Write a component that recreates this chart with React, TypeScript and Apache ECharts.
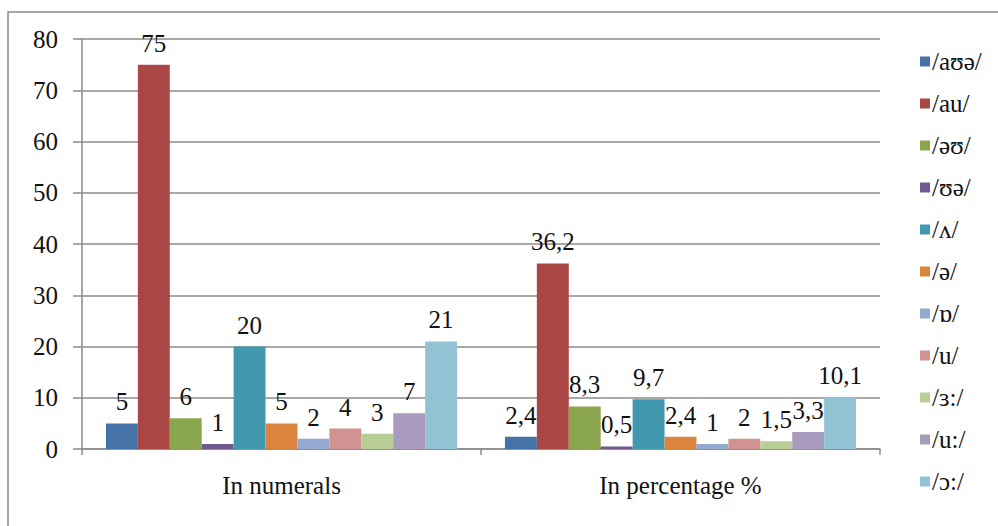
import React, { useEffect, useRef } from "react";
import * as echarts from "echarts";

// Group labels on the category axis
const categories = ["In numerals", "In percentage %"];

// Vowel sounds, one bar series each
const sounds = ["/aʊə/", "/au/", "/əʊ/", "/ʊə/", "/ʌ/", "/ə/", "/ɒ/", "/u/", "/ɜ:/", "/u:/", "/ɔ:/"];

// Counts per sound
const numerals = [5, 75, 6, 1, 20, 5, 2, 4, 3, 7, 21];

// Share per sound, in percent
const percentages = [2.4, 36.2, 8.3, 0.5, 9.7, 2.4, 1, 2, 1.5, 3.3, 10.1];

// Value axis ticks
const yMin = 0;
const yMax = 80;
const yStep = 10;

const colors = [
  "#4572A7", "#AA4643", "#89A54E", "#71588F", "#4198AF", "#DB843D",
  "#93A9CF", "#D19392", "#B9CD96", "#A99BBD", "#92C3D5",
];

const FONT = "'Liberation Serif', serif";
const FONT_SIZE = 25;
const GRID_COLOR = "#8b8b8b";
const TEXT_COLOR = "#111";

export default function App() {
  const ref = useRef<HTMLDivElement>(null);

  useEffect(() => {
    if (!ref.current) return;
    const chart = echarts.init(ref.current, undefined, { renderer: "svg" });

    const series = sounds.map((name, i) => ({
      name,
      type: "bar" as const,
      data: [numerals[i], percentages[i]],
      itemStyle: { color: colors[i] },
      barGap: "0%",
      barCategoryGap: "12%",
      label: {
        show: true,
        position: "top" as const,
        distance: 9,
        fontFamily: FONT,
        fontSize: FONT_SIZE,
        color: TEXT_COLOR,
        formatter: (p: any) => String(p.value).replace(".", ","),
      },
    }));

    chart.setOption({
      animation: false,
      backgroundColor: "#ffffff",
      textStyle: { fontFamily: FONT },
      graphic: [
        {
          type: "rect",
          shape: { x: 8, y: 12, width: 1100, height: 600 },
          style: { fill: "none", stroke: "#8a8a8a", lineWidth: 1.5 },
          silent: true,
          z: -1,
        },
      ],
      grid: { left: 82, right: 118, top: 39, bottom: 77, containLabel: false },
      legend: {
        orient: "vertical",
        left: 915,
        top: 44,
        itemWidth: 10,
        itemHeight: 10,
        itemGap: 17,
        icon: "rect",
        data: sounds,
        textStyle: { fontFamily: FONT, fontSize: FONT_SIZE, color: TEXT_COLOR, padding: [0, 0, 0, -3] },
      },
      xAxis: {
        type: "category",
        data: categories,
        axisLine: { lineStyle: { color: GRID_COLOR, width: 1.5 } },
        axisTick: { show: true, length: 6, alignWithLabel: false, lineStyle: { color: GRID_COLOR, width: 1.5 } },
        axisLabel: { margin: 24, fontFamily: FONT, fontSize: FONT_SIZE, color: TEXT_COLOR },
      },
      yAxis: {
        type: "value",
        min: yMin,
        max: yMax,
        interval: yStep,
        axisLine: { show: true, lineStyle: { color: GRID_COLOR, width: 1.5 } },
        axisTick: { show: true, length: 9, lineStyle: { color: GRID_COLOR, width: 1.5 } },
        axisLabel: { margin: 24, fontFamily: FONT, fontSize: FONT_SIZE, color: TEXT_COLOR },
        splitLine: { show: true, lineStyle: { color: GRID_COLOR, width: 1.5 } },
      },
      series,
    });

    return () => chart.dispose();
  }, []);

  return (
    <div
      ref={ref}
      style={{ position: "fixed", left: 0, top: 0, width: 998, height: 526, background: "#fff" }}
    />
  );
}
